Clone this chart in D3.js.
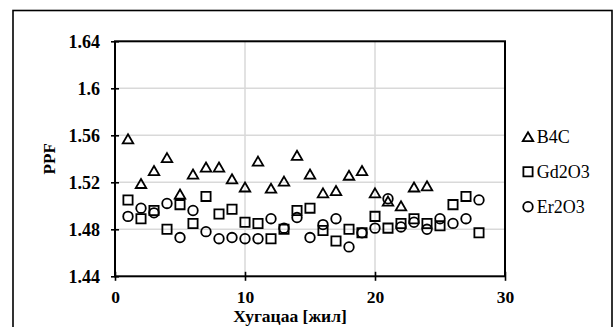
<!DOCTYPE html>
<html>
<head>
<meta charset="utf-8">
<script src="https://cdn.jsdelivr.net/npm/d3@7"></script>
<style>
  body { margin: 0; background: #ffffff; }
  svg { display: block; }
</style>
</head>
<body>
<svg id="chart"></svg>
<script>
// years on the x axis
const years = [1, 2, 3, 4, 5, 6, 7, 8, 9, 10, 11, 12, 13, 14, 15, 16, 17, 18, 19, 20, 21, 22, 23, 24, 25, 26, 27, 28];

// PPF values
const b4cValues = [1.557, 1.519, 1.530, 1.541, 1.510, 1.527, 1.533, 1.533, 1.523, 1.516, 1.538, 1.515,
  1.521, 1.543, 1.527, 1.511, 1.513, 1.526, 1.530, 1.511, 1.504, 1.500, 1.516, 1.517];
const gd2o3Values = [1.505, 1.489, 1.496, 1.480, 1.501, 1.485, 1.508, 1.493, 1.497, 1.486, 1.485, 1.472,
  1.480, 1.496, 1.498, 1.479, 1.470, 1.480, 1.477, 1.491, 1.481, 1.485, 1.489, 1.485, 1.483, 1.501, 1.508, 1.477];
const er2o3Values = [1.491, 1.498, 1.494, 1.502, 1.473, 1.496, 1.478, 1.472, 1.473, 1.472, 1.472, 1.489,
  1.481, 1.490, 1.473, 1.484, 1.489, 1.465, 1.477, 1.481, 1.506, 1.482, 1.486, 1.480, 1.489, 1.485, 1.489, 1.505];

const seriesNames = ["B4C", "Gd2O3", "Er2O3"];
const seriesShapes = ["triangle", "square", "circle"];

const xTickValues = [0, 10, 20, 30];
const xTickLabels = ["0", "10", "20", "30"];
const yTickValues = [1.44, 1.48, 1.52, 1.56, 1.6, 1.64];
const yTickLabels = ["1.44", "1.48", "1.52", "1.56", "1.6", "1.64"];

const xTitle = "Хугацаа [жил]";
const yTitle = "PPF";

// layout / style
const svgDimensions = { width: 616, height: 327 };
const plot = { left: 115, right: 505, top: 41.3, bottom: 276.3 };
const fontFamily = "Liberation Serif, Times New Roman, serif";
const gridColor = "#d9d9d9";
const markerStroke = { color: "#000000", width: 1.8 };
const legendProps = { x: 528, y: 136.7, step: 35, textOffset: 8.7 };

const trianglePath = (w, h) =>
  `M0,${-h / 2}L${w / 2},${h / 2}L${-w / 2},${h / 2}Z`;

const markerPath = (shape) => {
  if (shape === "triangle") return trianglePath(10.5, 9);
  if (shape === "square") return d3.symbol().type(d3.symbolSquare).size(85)();
  return d3.symbol().type(d3.symbolCircle).size(72)();
};

const styleTickText = (g, size) =>
  g.selectAll(".tick text")
    .attr("font-family", fontFamily)
    .attr("font-size", size)
    .attr("font-weight", "bold")
    .attr("fill", "#000");

const createChart = () => {
  const svg = d3
    .select("#chart")
    .attr("width", svgDimensions.width)
    .attr("height", svgDimensions.height);

  // outer chart frame (bottom edge is outside the picture)
  svg
    .append("rect")
    .attr("x", 13)
    .attr("y", 10.5)
    .attr("width", 599)
    .attr("height", 340)
    .attr("fill", "none")
    .attr("stroke", "#000")
    .attr("stroke-width", 1.6);

  const x = d3.scaleLinear().domain([0, 30]).range([plot.left, plot.right]);
  const y = d3.scaleLinear().domain([1.44, 1.64]).range([plot.bottom, plot.top]);

  // grid
  svg
    .append("g")
    .selectAll("line")
    .data(yTickValues.slice(1, -1))
    .enter()
    .append("line")
    .attr("x1", plot.left)
    .attr("x2", plot.right)
    .attr("y1", (d) => y(d))
    .attr("y2", (d) => y(d))
    .attr("stroke", gridColor)
    .attr("stroke-width", 1.5);

  svg
    .append("g")
    .selectAll("line")
    .data(xTickValues.slice(1, -1))
    .enter()
    .append("line")
    .attr("x1", (d) => x(d))
    .attr("x2", (d) => x(d))
    .attr("y1", plot.top)
    .attr("y2", plot.bottom)
    .attr("stroke", gridColor)
    .attr("stroke-width", 1.5);

  // axes
  const yAxis = d3
    .axisLeft(y)
    .tickValues(yTickValues)
    .tickFormat((d, i) => yTickLabels[i])
    .tickSize(4)
    .tickSizeOuter(0)
    .tickPadding(11);

  const gy = svg
    .append("g")
    .attr("transform", `translate(${plot.left},0)`)
    .call(yAxis);
  gy.select(".domain").remove();
  gy.selectAll(".tick line").attr("x1", 4).attr("x2", -4).attr("stroke", "#000").attr("stroke-width", 1.6);
  styleTickText(gy, 18);

  const xAxis = d3
    .axisBottom(x)
    .tickValues(xTickValues)
    .tickFormat((d, i) => xTickLabels[i])
    .tickSize(4)
    .tickSizeOuter(0)
    .tickPadding(10.5);

  const gx = svg
    .append("g")
    .attr("transform", `translate(0,${plot.bottom})`)
    .call(xAxis);
  gx.select(".domain").remove();
  gx.selectAll(".tick line").attr("y1", -4.5).attr("y2", 4.5).attr("stroke", "#000").attr("stroke-width", 1.6);
  styleTickText(gx, 17.5);

  // plot box
  svg
    .append("rect")
    .attr("x", plot.left)
    .attr("y", plot.top)
    .attr("width", plot.right - plot.left)
    .attr("height", plot.bottom - plot.top)
    .attr("fill", "none")
    .attr("stroke", "#000")
    .attr("stroke-width", 2);

  // titles
  svg
    .append("text")
    .attr("x", 290)
    .attr("y", 322)
    .attr("text-anchor", "middle")
    .attr("font-family", fontFamily)
    .attr("font-size", 17.5)
    .attr("font-weight", "bold")
    .attr("fill", "#000")
    .text(xTitle);

  svg
    .append("text")
    .attr("transform", `translate(55,${(plot.top + plot.bottom) / 2}) rotate(-90)`)
    .attr("text-anchor", "middle")
    .attr("font-family", fontFamily)
    .attr("font-size", 17)
    .attr("font-weight", "bold")
    .attr("fill", "#000")
    .text(yTitle);

  // series
  const allSeries = [b4cValues, gd2o3Values, er2o3Values];
  allSeries.forEach((values, s) => {
    svg
      .append("g")
      .selectAll("path")
      .data(values)
      .enter()
      .append("path")
      .attr("transform", (d, i) => `translate(${x(years[i])},${y(d)})`)
      .attr("d", markerPath(seriesShapes[s]))
      .attr("fill", "none")
      .attr("stroke", markerStroke.color)
      .attr("stroke-width", markerStroke.width);
  });

  // legend
  const legend = svg
    .append("g")
    .selectAll("g")
    .data(seriesNames)
    .enter()
    .append("g")
    .attr("transform", (d, i) => `translate(${legendProps.x},${legendProps.y + i * legendProps.step})`);

  legend
    .append("path")
    .attr("d", (d, i) => markerPath(seriesShapes[i]))
    .attr("fill", "none")
    .attr("stroke", markerStroke.color)
    .attr("stroke-width", markerStroke.width);

  legend
    .append("text")
    .attr("x", legendProps.textOffset)
    .attr("dy", "0.35em")
    .attr("font-family", fontFamily)
    .attr("font-size", 18)
    .attr("fill", "#000")
    .text((d) => d);
};

createChart();
</script>
</body>
</html>
